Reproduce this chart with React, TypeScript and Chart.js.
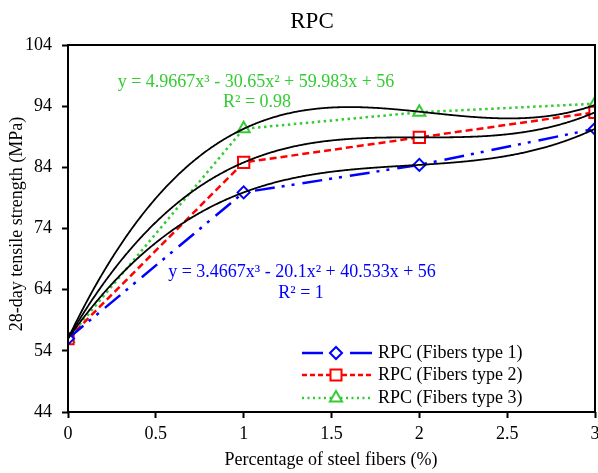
import React, { useEffect, useRef } from "react";
import { Chart, registerables } from "chart.js";

Chart.register(...registerables);

const chartTitle = "RPC";
const xAxisTitle = "Percentage of steel fibers (%)";
const yAxisTitle = "28-day tensile strength (MPa)";

const fiberContent = [0, 1, 2, 3];
const type1Strength = [56, 79.9, 84.4, 90.3];
const type2Strength = [56, 84.8, 88.9, 93.0];
const type3Strength = [56, 90.3, 93.0, 94.4];
const seriesNames = ["RPC (Fibers type 1)", "RPC (Fibers type 2)", "RPC (Fibers type 3)"];

// cubic trendline coefficients [c0, c1, c2, c3]
const trend1Coefs = [56, 40.533, -20.1, 3.4667];
const trend2Coefs = [56, 49.38, -24.7, 4.117];
const trend3Coefs = [56, 59.983, -30.65, 4.9667];

const eq1Lines = ["y = 3.4667x³ - 20.1x² + 40.533x + 56", "R² = 1"];
const eq3Lines = ["y = 4.9667x³ - 30.65x² + 59.983x + 56", "R² = 0.98"];

const xMin = 0;
const xMax = 3;
const xStep = 0.5;
const yMin = 44;
const yMax = 104;
const yStep = 10;

const FONT = '"Liberation Serif", "Times New Roman", serif';
const BLUE = "#0000FF";
const RED = "#FF0000";
const GREEN = "#33CC33";

function drawMarker(ctx: CanvasRenderingContext2D, style: string, cx: number, cy: number, color: string) {
  ctx.save();
  ctx.setLineDash([]);
  ctx.strokeStyle = color;
  ctx.fillStyle = "#ffffff";
  ctx.lineWidth = 2;
  ctx.beginPath();
  if (style === "rectRot") {
    const r = 6;
    ctx.moveTo(cx - r, cy);
    ctx.lineTo(cx, cy - r);
    ctx.lineTo(cx + r, cy);
    ctx.lineTo(cx, cy + r);
    ctx.closePath();
  } else if (style === "rect") {
    const s = 5.5;
    ctx.rect(cx - s, cy - s, 2 * s, 2 * s);
  } else {
    const r = 7;
    ctx.moveTo(cx, cy - r);
    ctx.lineTo(cx + 0.866 * r, cy + 0.5 * r);
    ctx.lineTo(cx - 0.866 * r, cy + 0.5 * r);
    ctx.closePath();
  }
  ctx.fill();
  ctx.stroke();
  ctx.restore();
}

const overlayPlugin = {
  id: "overlay",
  beforeLayout(chart: any) {
    const xs = chart.scales && chart.scales.x;
    if (xs) {
      xs.getPadding = () => ({ left: 0, top: 0, right: 0, bottom: 0 });
    }
  },
  afterDatasetsDraw(chart: any) {
    const { ctx, chartArea: ca, scales } = chart;
    const xs = scales.x;
    const ys = scales.y;
    ctx.save();
    ctx.beginPath();
    ctx.rect(ca.left, ca.top, ca.right - ca.left, ca.bottom - ca.top);
    ctx.clip();
    ctx.strokeStyle = "#000";
    ctx.lineWidth = 1.8;
    ctx.setLineDash([]);
    for (const c of [trend1Coefs, trend2Coefs, trend3Coefs]) {
      ctx.beginPath();
      const p0 = xs.getPixelForValue(xMin);
      const p1 = xs.getPixelForValue(xMax);
      let first = true;
      for (let px = p0; px <= p1 + 0.01; px += 1) {
        const v = xs.getValueForPixel(Math.min(px, p1));
        const yv = c[0] + c[1] * v + c[2] * v * v + c[3] * v * v * v;
        const py = ys.getPixelForValue(yv);
        if (first) {
          ctx.moveTo(px, py);
          first = false;
        } else ctx.lineTo(px, py);
      }
      ctx.stroke();
    }
    ctx.restore();
  },
  afterDraw(chart: any) {
    const { ctx, chartArea: ca } = chart;
    ctx.save();
    // plot frame
    ctx.strokeStyle = "#000";
    ctx.lineWidth = 2;
    ctx.setLineDash([]);
    ctx.strokeRect(ca.left, ca.top, ca.right - ca.left, ca.bottom - ca.top);

    // title
    ctx.fillStyle = "#000";
    ctx.font = `23px ${FONT}`;
    ctx.textAlign = "center";
    ctx.textBaseline = "alphabetic";
    ctx.fillText(chartTitle, 312, 28);

    // axis titles
    ctx.font = `18px ${FONT}`;
    ctx.textBaseline = "middle";
    ctx.fillText(xAxisTitle, 331, 460);
    ctx.save();
    ctx.translate(17, 224);
    ctx.rotate(-Math.PI / 2);
    ctx.fillText(yAxisTitle, 0, 0);
    ctx.restore();

    // equations
    ctx.textBaseline = "alphabetic";
    ctx.fillStyle = GREEN;
    ctx.fillText(eq3Lines[0], 256, 87);
    ctx.fillText(eq3Lines[1], 257, 107);
    ctx.fillStyle = BLUE;
    ctx.fillText(eq1Lines[0], 302, 277);
    ctx.fillText(eq1Lines[1], 301, 298);

    // legend
    const rows = [353, 375, 398];
    const lx0 = 302;
    const lx1 = 372;
    const mx = 336;
    ctx.strokeStyle = BLUE;
    ctx.lineWidth = 2.5;
    ctx.beginPath();
    ctx.moveTo(lx0, rows[0]);
    ctx.lineTo(323, rows[0]);
    ctx.moveTo(350, rows[0]);
    ctx.lineTo(lx1, rows[0]);
    ctx.stroke();
    drawMarker(ctx, "rectRot", mx, rows[0], BLUE);
    ctx.strokeStyle = RED;
    ctx.lineWidth = 2.5;
    ctx.setLineDash([5, 3]);
    ctx.beginPath();
    ctx.moveTo(lx0, rows[1]);
    ctx.lineTo(lx1, rows[1]);
    ctx.stroke();
    drawMarker(ctx, "rect", mx, rows[1], RED);
    ctx.strokeStyle = GREEN;
    ctx.lineWidth = 2.5;
    ctx.setLineDash([2, 3.5]);
    ctx.beginPath();
    ctx.moveTo(lx0, rows[2]);
    ctx.lineTo(lx1, rows[2]);
    ctx.stroke();
    drawMarker(ctx, "triangle", mx, rows[2], GREEN);

    ctx.setLineDash([]);
    ctx.fillStyle = "#000";
    ctx.font = `18px ${FONT}`;
    ctx.textAlign = "left";
    ctx.textBaseline = "middle";
    seriesNames.forEach((n, i) => ctx.fillText(n, 378, rows[i]));
    ctx.restore();
  },
};

export default function App() {
  const ref = useRef<HTMLCanvasElement>(null);
  useEffect(() => {
    const toPts = (ys: number[]) => fiberContent.map((x, i) => ({ x, y: ys[i] }));
    const chart = new Chart(ref.current as HTMLCanvasElement, {
      type: "line",
      data: {
        datasets: [
          {
            label: seriesNames[0],
            data: toPts(type1Strength),
            borderColor: BLUE,
            borderWidth: 2.5,
            borderDash: [20, 7, 3, 7, 3, 8],
            pointStyle: "rectRot",
            pointRadius: 6,
            pointBorderWidth: 2,
            pointBackgroundColor: "#ffffff",
            pointBorderColor: BLUE,
            tension: 0,
          },
          {
            label: seriesNames[1],
            data: toPts(type2Strength),
            borderColor: RED,
            borderWidth: 2.5,
            borderDash: [7, 4],
            pointStyle: "rect",
            pointRadius: 8,
            pointBorderWidth: 2,
            pointBackgroundColor: "#ffffff",
            pointBorderColor: RED,
            tension: 0,
          },
          {
            label: seriesNames[2],
            data: toPts(type3Strength),
            borderColor: GREEN,
            borderWidth: 2.5,
            borderDash: [2.5, 3.5],
            pointStyle: "triangle",
            pointRadius: 7,
            pointBorderWidth: 2,
            pointBackgroundColor: "#ffffff",
            pointBorderColor: GREEN,
            tension: 0,
          },
        ],
      },
      options: {
        responsive: false,
        animation: false,
        layout: { autoPadding: false, padding: { top: 45, right: 3, left: 0, bottom: 0 } },
        plugins: {
          legend: { display: false },
          title: { display: false },
          tooltip: { enabled: false },
        },
        scales: {
          x: {
            type: "linear",
            min: xMin,
            max: xMax,
            border: { display: false },
            grid: {
              drawOnChartArea: false,
              drawTicks: true,
              tickLength: 6,
              tickColor: "#000",
              tickWidth: 2,
            },
            ticks: {
              stepSize: xStep,
              color: "#000",
              font: { family: FONT, size: 18 },
              padding: 5,
              maxRotation: 0,
              autoSkip: false,
              callback: (v: any) => String(Number(v)),
            },
            afterFit: (s: any) => {
              s.height = 61;
              s.paddingLeft = 0;
              s.paddingRight = 0;
            },
          },
          y: {
            type: "linear",
            min: yMin,
            max: yMax,
            border: { display: false },
            grid: {
              drawOnChartArea: false,
              drawTicks: true,
              tickLength: 6,
              tickColor: "#000",
              tickWidth: 2,
            },
            ticks: {
              stepSize: yStep,
              color: "#000",
              font: { family: FONT, size: 18 },
              padding: 10,
              autoSkip: false,
            },
            afterFit: (s: any) => {
              s.width = 68;
              s.paddingTop = 0;
              s.paddingBottom = 0;
            },
          },
        },
      },
      plugins: [overlayPlugin],
    } as any);
    return () => chart.destroy();
  }, []);
  return (
    <div style={{ position: "absolute", left: 0, top: 0, width: 598, height: 473 }}>
      <canvas ref={ref} width={598} height={473} style={{ display: "block", width: 598, height: 473 }} />
    </div>
  );
}
